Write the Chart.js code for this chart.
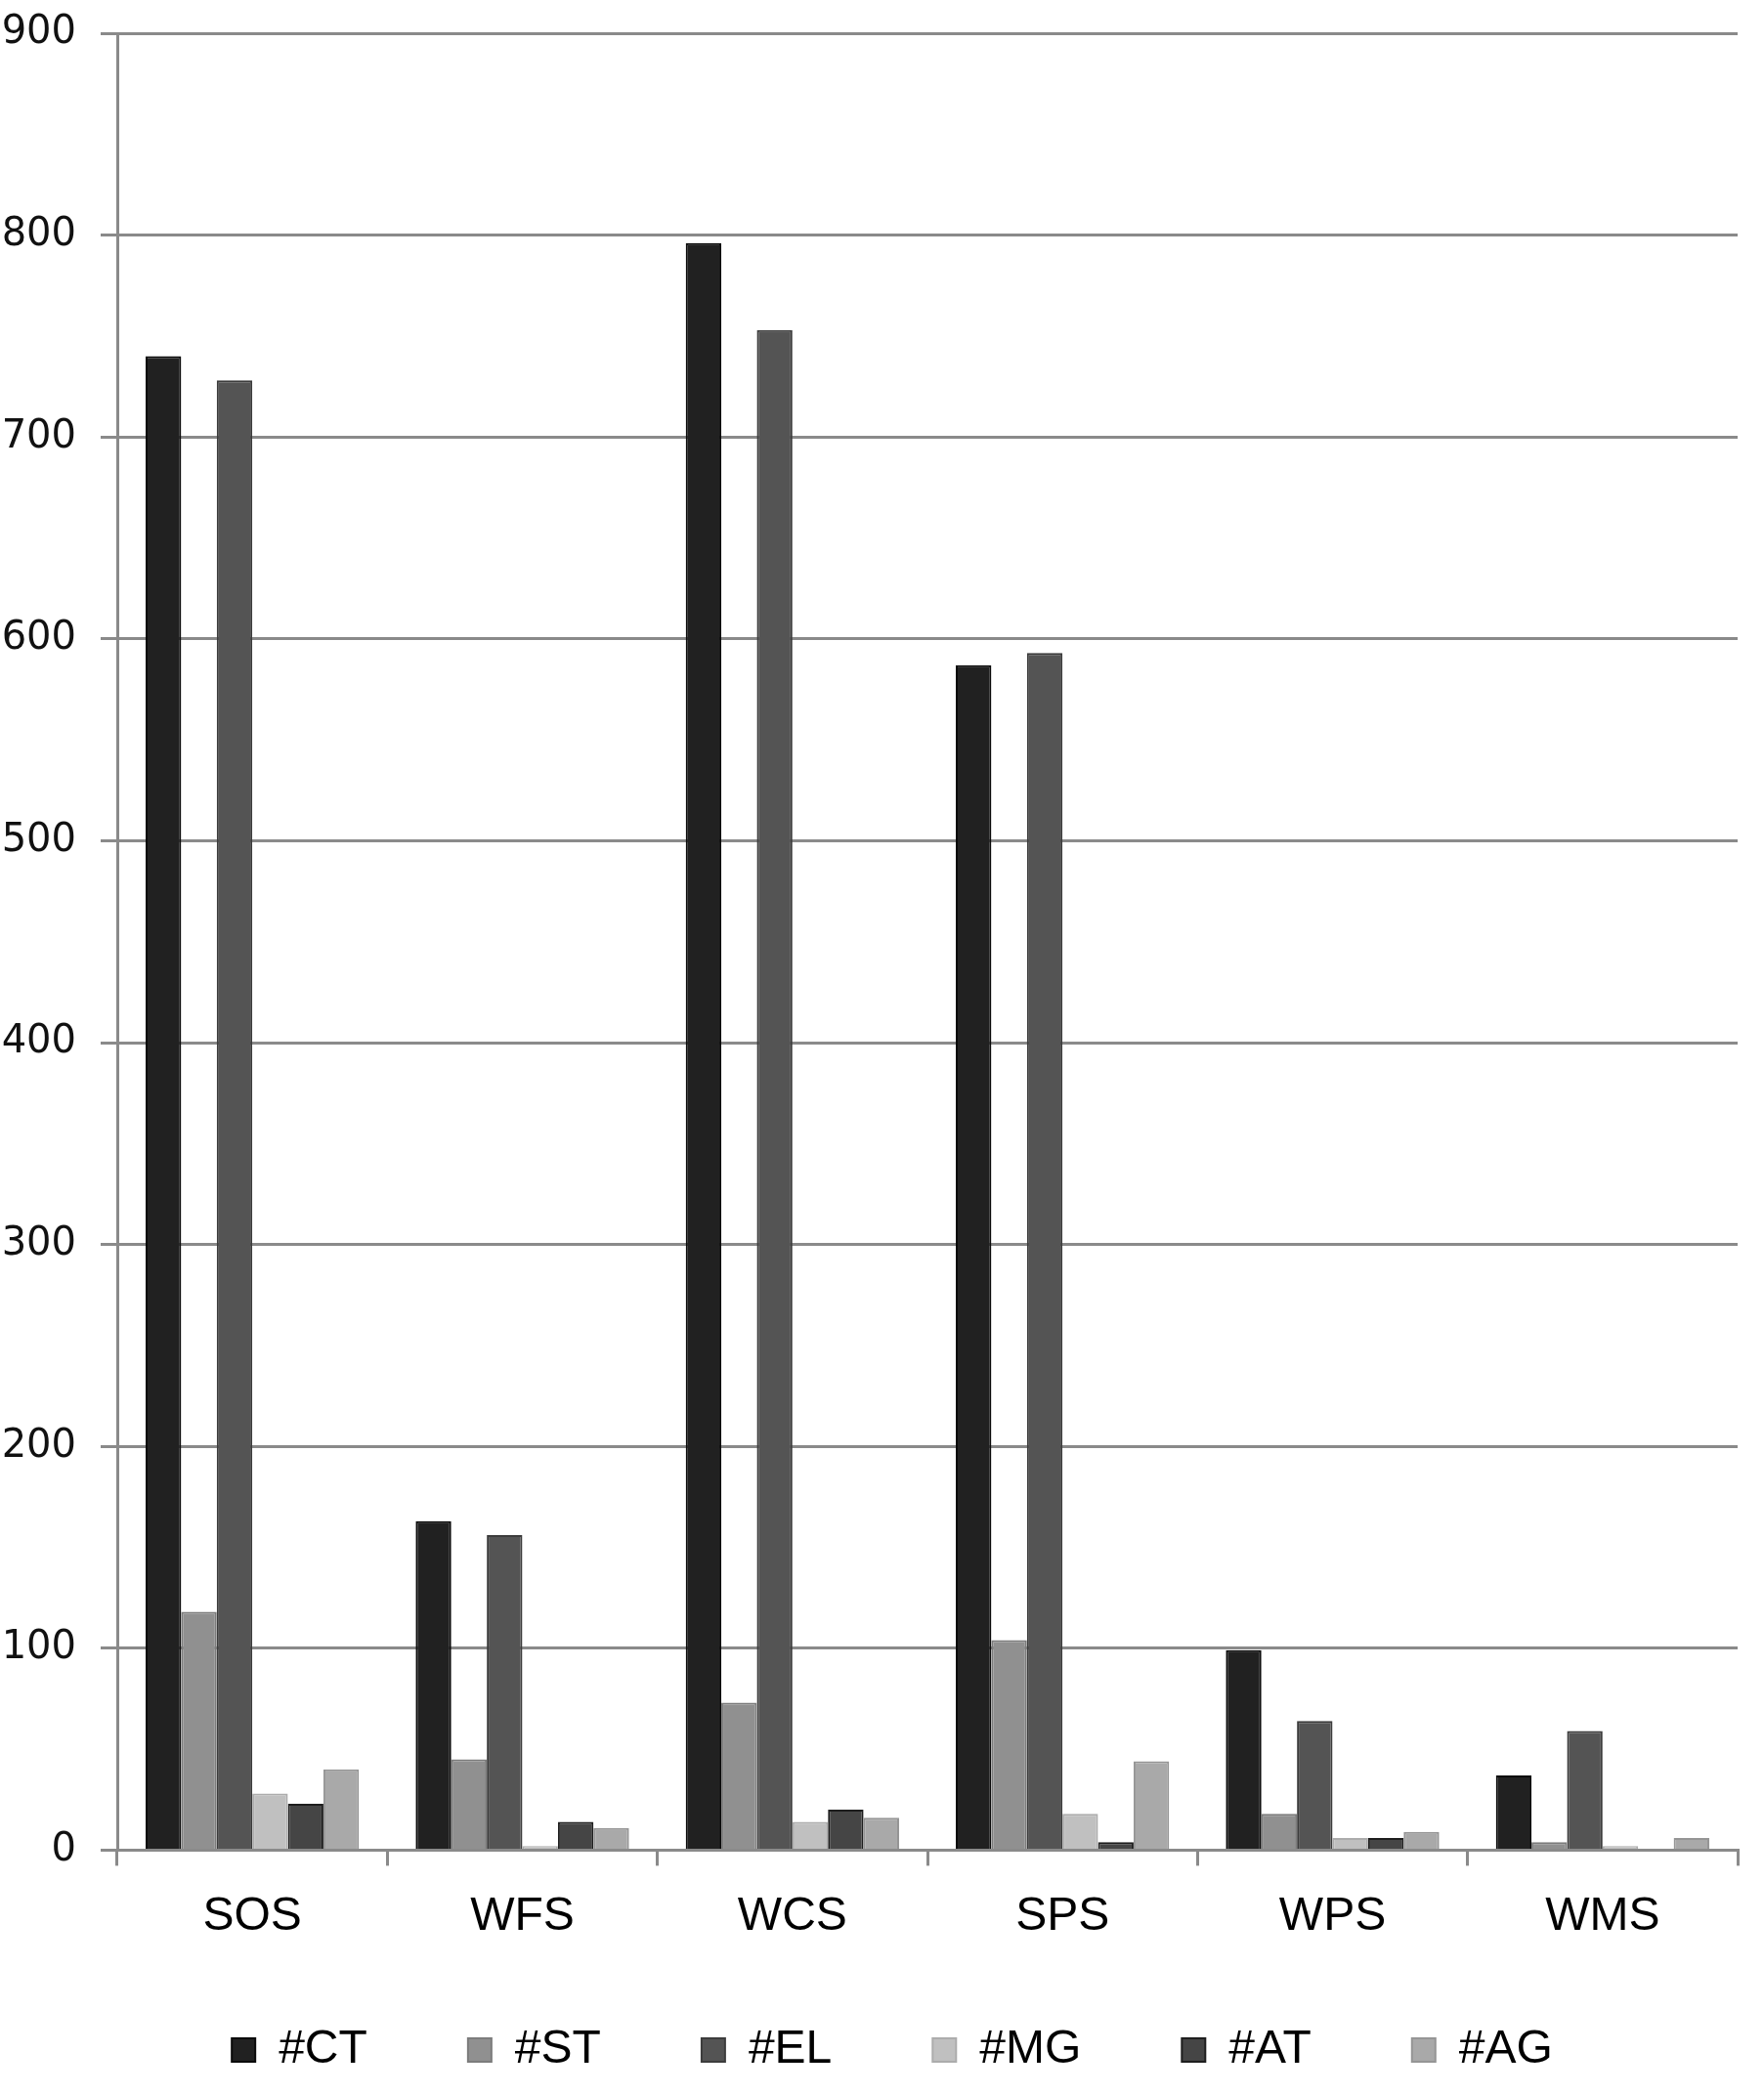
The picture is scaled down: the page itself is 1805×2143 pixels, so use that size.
<!DOCTYPE html>
<html>
<head>
<meta charset="utf-8">
<script src="https://cdn.jsdelivr.net/npm/chart.js@4/dist/chart.umd.min.js"></script>
<style>
  html, body { margin: 0; padding: 0; background: #fff; }
  #wrap { width: 1805px; height: 2143px; }
</style>
</head>
<body>
<div id="wrap"><canvas id="chartCanvas" width="1805" height="2143"></canvas></div>
<script>
const categories = ['SOS', 'WFS', 'WCS', 'SPS', 'WPS', 'WMS'];
const seriesNames = ['#CT', '#ST', '#EL', '#MG', '#AT', '#AG'];
const ctValues = [740, 163, 796, 587, 99, 37];
const stValues = [118, 45, 73, 104, 18, 4];
const elValues = [728, 156, 753, 593, 64, 59];
const mgValues = [28, 2, 14, 18, 6, 2];
const atValues = [23, 14, 20, 4, 6, 0];
const agValues = [40, 11, 16, 44, 9, 6];
const yTicks = [0, 100, 200, 300, 400, 500, 600, 700, 800, 900];

const fills = ['#212121', '#909090', '#545454', '#c0c0c0', '#454545', '#a9a9a9'];
const edges = ['#0a0a0a', '#7c7c7c', '#3c3c3c', '#acacac', '#1e1e1e', '#959595'];
const allValues = [ctValues, stValues, elValues, mgValues, atValues, agValues];

const gridGray = '#8a8a8a';

// move the legend row to where the original puts it
const legendPlacer = {
  id: 'legendPlacer',
  afterLayout(chart) {
    const lg = chart.legend;
    if (!lg) return;
    lg.top = 1971;
    lg.bottom = chart.height;
    lg.height = lg.bottom - lg.top;
    lg.left += 24; lg.right += 24;
  }
};

const ctx = document.getElementById('chartCanvas').getContext('2d');
const chart = new Chart(ctx, {
  type: 'bar',
  data: {
    labels: categories,
    datasets: seriesNames.map((name, i) => ({
      label: name,
      data: allValues[i],
      backgroundColor: fills[i],
      borderColor: edges[i],
      borderWidth: 2,
      categoryPercentage: 0.79,
      barPercentage: 1.0
    }))
  },
  plugins: [legendPlacer],
  options: {
    responsive: false,
    animation: false,
    devicePixelRatio: 1,
    layout: { padding: { top: 34, right: 27, left: 0, bottom: 0 } },
    plugins: {
      tooltip: { enabled: false },
      legend: {
        display: true,
        position: 'bottom',
        maxHeight: 128,
        labels: {
          boxWidth: 24,
          boxHeight: 24,
          padding: 103,
          color: '#000',
          font: { family: '"Liberation Sans", Arial, sans-serif', size: 48 }
        }
      }
    },
    scales: {
      x: {
        grid: {
          display: true,
          drawOnChartArea: false,
          drawTicks: true,
          tickLength: 16,
          offset: true,
          color: gridGray,
          lineWidth: 3
        },
        border: { display: true, color: gridGray, width: 3 },
        ticks: {
          color: '#000',
          padding: 24,
          font: { family: '"Liberation Sans", Arial, sans-serif', size: 48 }
        }
      },
      y: {
        min: 0,
        max: 900,
        afterBuildTicks: (scale) => { scale.ticks = yTicks.map(v => ({ value: v })); },
        afterFit: (scale) => {
          scale.width = 120;
          scale.paddingTop = 0;
          scale.paddingBottom = 0;
        },
        grid: {
          color: gridGray,
          lineWidth: 3,
          drawTicks: true,
          tickLength: 17
        },
        border: { display: true, color: gridGray, width: 3 },
        ticks: {
          color: '#111',
          padding: 25,
          font: { family: '"DejaVu Sans", Verdana, sans-serif', size: 40 }
        }
      }
    }
  }
});
</script>
</body>
</html>
